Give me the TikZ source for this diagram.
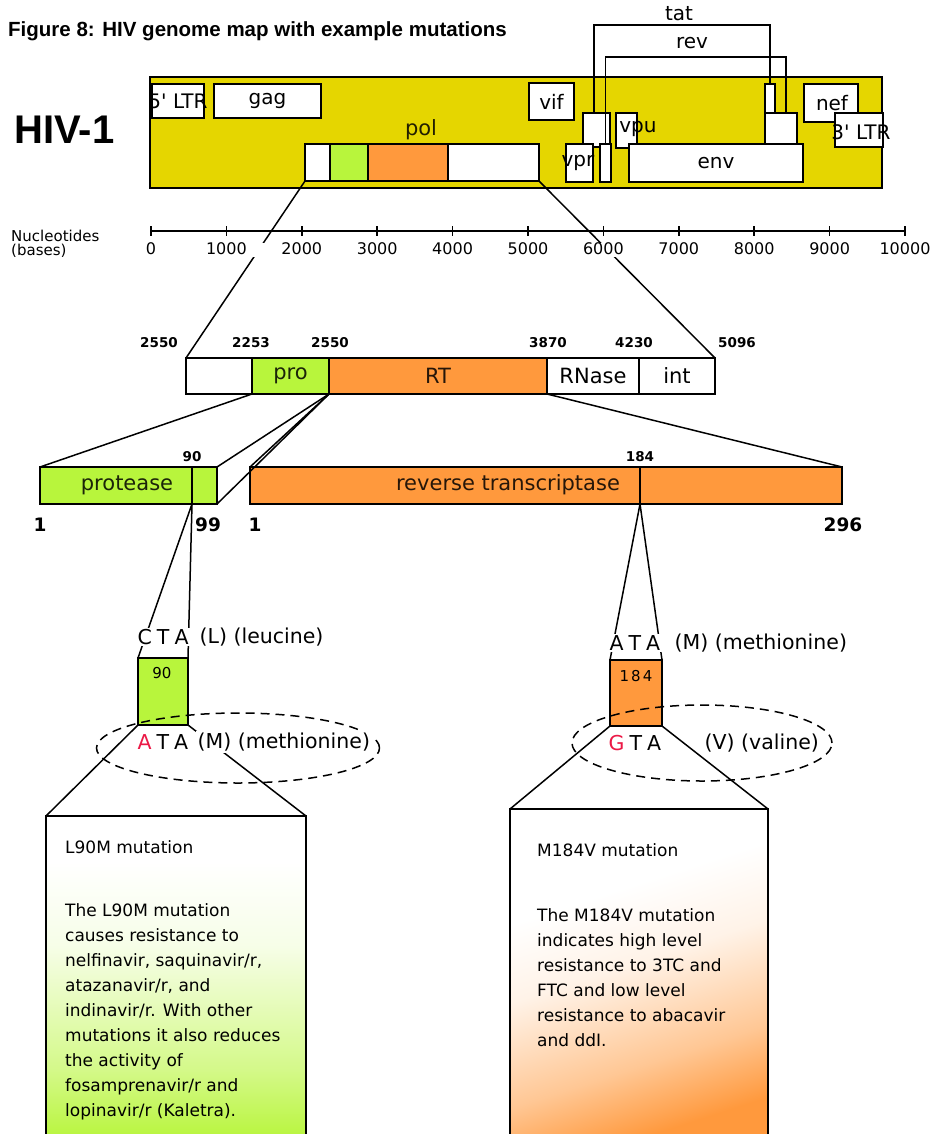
\documentclass[tikz,border=0pt]{standalone}
\usepackage{fontspec}
\setmainfont{Liberation Sans}
\newfontfamily\genefont{DejaVu Sans}
\usetikzlibrary{shapes.geometric}
\definecolor{hivyellow}{RGB}{229,214,0}
\definecolor{limeg}{RGB}{184,245,60}
\definecolor{orng}{RGB}{255,153,61}
\definecolor{mutred}{RGB}{235,25,70}
\pgfdeclareverticalshading{greenfade}{100bp}{color(0bp)=(limeg); color(25bp)=(limeg); color(36bp)=(limeg!60!white); color(55bp)=(limeg!12!white); color(68bp)=(white); color(100bp)=(white)}
\pgfdeclareverticalshading{orangefade}{100bp}{color(0bp)=(orng); color(25bp)=(orng); color(36bp)=(orng!55!white); color(52bp)=(orng!12!white); color(64bp)=(white); color(100bp)=(white)}
\begin{document}
\begin{tikzpicture}[x=1pt,y=-1pt,
  gbox/.style={draw, fill=white, line width=1.5pt, inner sep=0pt, outer sep=0pt, anchor=north west},
  conn/.style={draw, line width=1.5pt},
  genelbl/.style={font=\genefont\fontsize{20}{24}\selectfont, inner sep=0pt},
  barlbl/.style={font=\genefont\fontsize{21}{24}\selectfont, inner sep=0pt, text opacity=0.85},
  poslbl/.style={font=\genefont\bfseries\fontsize{13.5}{15}\selectfont, inner sep=0pt},
  axlbl/.style={font=\genefont\fontsize{16}{18}\selectfont, inner sep=0pt},
  sidelbl/.style={font=\genefont\fontsize{15}{17}\selectfont, inner sep=0pt, anchor=west},
  endlbl/.style={font=\genefont\bfseries\fontsize{18.5}{20}\selectfont, inner sep=0pt},
  codon/.style={font=\genefont\fontsize{20.5}{24}\selectfont, inner sep=1.5pt, fill=white, anchor=west},
  boxnum/.style={font=\genefont\fontsize{15}{17}\selectfont, inner sep=0pt},
  ellip/.style={draw, dash pattern=on 9pt off 6pt, ellipse, line width=1.5pt, inner sep=0pt},
  infohead/.style={font=\genefont\fontsize{17}{25}\selectfont, inner sep=0pt, anchor=base west},
  infobody/.style={font=\genefont\fontsize{17}{25}\selectfont, inner sep=0pt, anchor=north west, align=left},
]
\useasboundingbox (0,0) rectangle (950,1134);

% ---- title
\node[anchor=base west, inner sep=0pt, font=\bfseries\fontsize{20.5}{24}\selectfont] (title) at (8,37) {Figure 8: HIV genome map with example mutations};
\node[anchor=base west, inner sep=0pt, font=\bfseries\fontsize{40}{44}\selectfont] (hiv) at (14,144) {HIV-1};

% ---- genome map
\node[gbox, fill=hivyellow, minimum width=732, minimum height=111] (genome) at (150,77) {};
\node[gbox, minimum width=52, minimum height=34] (ltr5) at (152,84) {};
\node[genelbl] (ltr5l) at (178,101) {5\textquotesingle\ LTR};
\node[gbox, minimum width=107, minimum height=34, label={[genelbl]center:gag}] (gag) at (214,84) {};
\node[gbox, minimum width=45, minimum height=37, label={[genelbl]center:vif}] (vif) at (529,83) {};
\node[gbox, minimum width=27, minimum height=34] (ex1) at (583,113) {};
\node[gbox, minimum width=27, minimum height=38] (vpr) at (566,144) {};
\node[genelbl] (vprl) at (578,163) {vpr};
\node[gbox, minimum width=11, minimum height=38] (nb) at (600,144) {};
\node[gbox, minimum width=21, minimum height=35] (vpu) at (616,113) {};
\node[genelbl] (vpul) at (638,129) {vpu};
\node[gbox, minimum width=174, minimum height=38, label={[genelbl]center:env}] (env) at (629,144) {};
\node[gbox, minimum width=10, minimum height=29] (tx2) at (765,84) {};
\node[gbox, minimum width=32, minimum height=31] (rx2) at (765,113) {};
\node[gbox, minimum width=54, minimum height=38] (nef) at (804,84) {};
\node[genelbl] (nefl) at (832,103) {nef};
\node[gbox, minimum width=48, minimum height=34] (ltr3) at (835,113) {};
\node[genelbl] (ltr3l) at (861,132) {3\textquotesingle\ LTR};

% tat / rev splice lines
\draw[conn, line width=1.3pt] ([xshift=11pt]ex1.north west) -- ++(0,-88) -| (tx2.north);
\draw[conn, line width=1.3pt] (nb.north) -- ++(0,-87) -| ([xshift=-11pt]rx2.north east);
\node[genelbl] (tatl) at (679,14) {tat};
\node[genelbl] (revl) at (692,43) {rev};

% pol
\node[gbox, minimum width=25, minimum height=37] (p0) at (305,144) {};
\node[gbox, fill=limeg, minimum width=38, minimum height=37] (p1) at (330,144) {};
\node[gbox, fill=orng, minimum width=80, minimum height=37] (p2) at (368,144) {};
\node[gbox, minimum width=91, minimum height=37] (p3) at (448,144) {};
\node[barlbl] (poll) at (421,130) {pol};

% ---- expanded pol
\node[gbox, minimum width=66, minimum height=36] (e0) at (186,358) {};
\node[gbox, fill=limeg, minimum width=77, minimum height=36, label={[barlbl]center:pro}] (e1) at (252,358) {};
\node[gbox, fill=orng, minimum width=218, minimum height=36, label={[barlbl]center:RT}] (e2) at (329,358) {};
\node[gbox, minimum width=92, minimum height=36, label={[genelbl,font=\genefont\fontsize{21}{24}\selectfont]center:RNase}] (e3) at (547,358) {};
\node[gbox, minimum width=76, minimum height=36, label={[genelbl,font=\genefont\fontsize{21}{24}\selectfont]center:int}] (e4) at (639,358) {};

\draw[conn] (p0.south west) -- (e0.north west);
\draw[conn] (p3.south east) -- (e4.north east);

% ---- axis
\fill[white] (140,243) rectangle (950,257);
\draw[line width=1.5pt] (151,231) -- (905,231);
\foreach \k in {0,...,10}{
  \draw[line width=1.5pt] ({151+75.4*\k},226) -- ({151+75.4*\k},236);
}
\foreach \k/\t in {0/0,1/1000,2/2000,3/3000,4/4000,5/5000,6/6000,7/7000,8/8000,9/9000,10/10000}{
  \node[axlbl] (ax\k) at ({151+75.4*\k},249) {\t};
}
\node[sidelbl] (nucl) at (11,236) {Nucleotides};
\node[sidelbl] (bases) at (11,251) {(bases)};

% positions above expanded pol
\node[poslbl] (n1) at (159,343) {2550};
\node[poslbl] (n2) at (251,343) {2253};
\node[poslbl] (n3) at (330,343) {2550};
\node[poslbl] (n4) at (548,343) {3870};
\node[poslbl] (n5) at (634,343) {4230};
\node[poslbl] (n6) at (737,343) {5096};

% ---- protease and RT
\node[gbox, fill=limeg, minimum width=177, minimum height=37] (prot) at (40,467) {};
\node[gbox, fill=orng, minimum width=592, minimum height=37] (rtbar) at (250,467) {};
\coordinate (m90t) at (192,467);
\coordinate (m90b) at (192,504);
\coordinate (m184t) at (640,467);
\coordinate (m184b) at (640,504);
\draw[conn] (m90t) -- (m90b);
\draw[conn] (m184t) -- (m184b);
\node[barlbl] (protl) at (127,485) {protease};
\node[barlbl] (rtl) at (508,485) {reverse transcriptase};
\node[poslbl] (l90) at (192,457) {90};
\node[poslbl] (l184) at (640,457) {184};
\node[endlbl] (s1) at (40,525) {1};
\node[endlbl] (s99) at (208,525) {99};
\node[endlbl] (r1) at (255,525) {1};
\node[endlbl] (r296) at (843,525) {296};

\draw[conn] (e1.south west) -- (prot.north west);
\draw[conn] (e1.south east) -- (prot.north east);
\draw[conn] (e1.south east) -- (prot.south east);
\draw[conn] (e1.south east) -- (rtbar.north west);
\draw[conn] (e2.south east) -- (rtbar.north east);

% ---- codon 90
\node[gbox, fill=limeg, minimum width=50, minimum height=67] (c90) at (138,658) {};
\node[boxnum] (c90l) at (162,673) {90};
\draw[conn] (m90b) -- (c90.north west);
\draw[conn] (m90b) -- (c90.north east);
\draw[conn] (c90.south west) -- (46,816) coordinate (i1tl);
\draw[conn] (c90.south east) -- (306,816) coordinate (i1tr);
\node[ellip, minimum width=283, minimum height=70] (ell1) at (238,748) {};
\node[codon] (cta) at (136,637) {C\hspace{5pt}T\hspace{5pt}A};
\node[codon] (leu) at (198,637) {(L) (leucine)};
\node[codon] (ata1) at (136,742) {\textcolor{mutred}{A}\hspace{5pt}T\hspace{5pt}A};
\node[codon] (met1) at (196,742) {(M) (methionine)};

% ---- codon 184
\node[gbox, fill=orng, minimum width=52, minimum height=66] (c184) at (610,660) {};
\node[boxnum] (c184l) at (636,676) {1\hspace{2pt}8\hspace{2pt}4};
\draw[conn] (m184b) -- (c184.north west);
\draw[conn] (m184b) -- (c184.north east);
\draw[conn] (c184.south west) -- (510,809) coordinate (i2tl);
\draw[conn] (c184.south east) -- (768,809) coordinate (i2tr);
\node[ellip, minimum width=260, minimum height=76] (ell2) at (702,743) {};
\node[codon] (ata2) at (608,643) {A\hspace{5pt}T\hspace{5pt}A};
\node[codon] (met2) at (673,643) {(M) (methionine)};
\node[codon, fill=none] (gta) at (607,743) {\textcolor{mutred}{G}\hspace{5pt}T\hspace{5pt}A};
\node[codon, fill=none] (val) at (703,743) {(V) (valine)};

% ---- info boxes
\path[shading=greenfade] (i1tl) rectangle (306,1140);
\draw[line width=1.5pt] (46,1140) -- (i1tl) -- (i1tr) -- (306,1140);
\path[shading=orangefade, shading angle=18] (i2tl) rectangle (768,1140);
\draw[line width=1.5pt] (510,1140) -- (i2tl) -- (i2tr) -- (768,1140);

\node[infohead] (h1) at (65,853) {L90M mutation};
\node[infobody] (b1) at (65,903) {The L90M mutation\\causes resistance to\\nelfinavir, saquinavir/r,\\atazanavir/r, and\\indinavir/r. With other\\mutations it also reduces\\the activity of\\fosamprenavir/r and\\lopinavir/r (Kaletra).};
\node[infohead] (h2) at (537,856) {M184V mutation};
\node[infobody] (b2) at (537,908) {The M184V mutation\\indicates high level\\resistance to 3TC and\\FTC and low level\\resistance to abacavir\\and ddI.};
\end{tikzpicture}
\end{document}
